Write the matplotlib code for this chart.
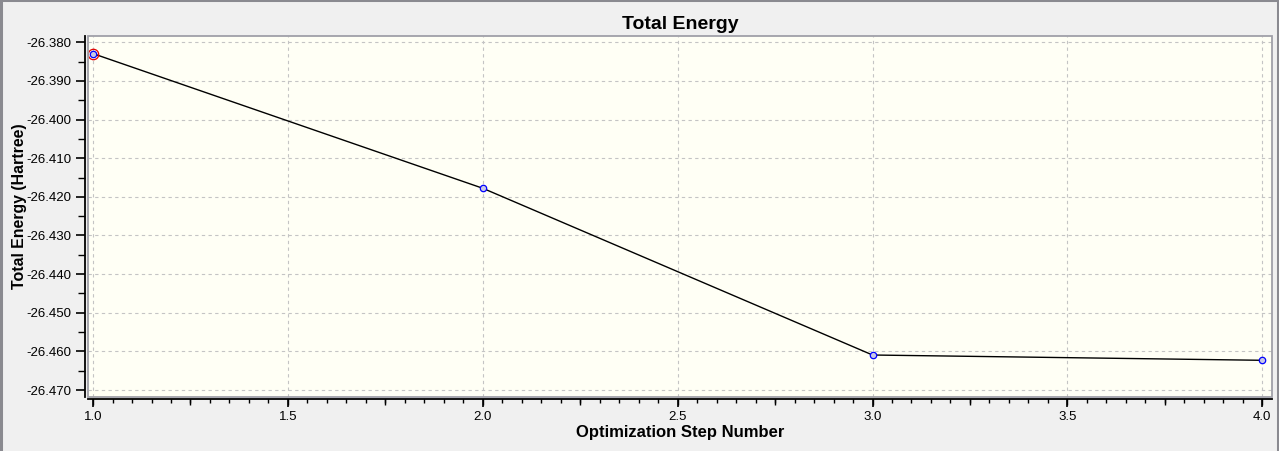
import matplotlib.pyplot as plt
from matplotlib.ticker import MultipleLocator, FormatStrFormatter
from matplotlib.patches import Rectangle
from matplotlib.lines import Line2D

# optimization steps and total energy (Hartree)
steps = [1, 2, 3, 4]
energy = [-26.38293, -26.41778, -26.46093, -26.46230]
highlight_step = 0  # index of the selected point (red ring)

plt.rcParams['font.family'] = ['Liberation Sans', 'DejaVu Sans']

fig = plt.figure(figsize=(12.79, 4.51), dpi=100, facecolor="#f0f0f0")
ax = fig.add_axes([88 / 1279, 1 - 396.7 / 451, (1272 - 88) / 1279, (396.7 - 36) / 451])
ax.set_facecolor("#fffff5")

ax.plot(steps, energy, color="black", linewidth=1.0, zorder=3)
ax.plot(steps, energy, linestyle="none", marker="o", markersize=4.6,
        markeredgecolor="#0000ff", markerfacecolor="#c8c8e6", markeredgewidth=0.9, zorder=4)
ax.plot(steps[highlight_step], energy[highlight_step], linestyle="none", marker="o",
        markersize=7.5, markeredgecolor="#e00000", markerfacecolor="none",
        markeredgewidth=0.9, zorder=5)

ax.set_xlim(0.987, 4.025)
ax.set_ylim(-26.47172, -26.37837)

ax.xaxis.set_major_locator(MultipleLocator(0.5))
ax.xaxis.set_minor_locator(MultipleLocator(0.05))
ax.xaxis.set_major_formatter(FormatStrFormatter("%.1f"))
ax.yaxis.set_major_locator(MultipleLocator(0.01))
ax.yaxis.set_minor_locator(MultipleLocator(0.005))
ax.yaxis.set_major_formatter(FormatStrFormatter("%.3f"))

ax.grid(True, which="major", color="#c4c4c4", linestyle=(0, (3, 3)), linewidth=0.8)

for side in ["top", "right"]:
    ax.spines[side].set_visible(False)
ax.spines["left"].set_position(("outward", 2.2))
ax.spines["bottom"].set_position(("outward", 2.0))
ax.spines["left"].set_linewidth(1.3)
ax.spines["bottom"].set_linewidth(1.3)

# gray frame of the plotting area
ax.add_patch(Rectangle((0, 0), 1, 1, transform=ax.transAxes, fill=False,
                       edgecolor="#a0a0a8", linewidth=1.3, clip_on=False, zorder=6))

ax.tick_params(axis="x", which="major", direction="out", length=5.6, width=1.2,
               labelsize=9.5, pad=3)
ax.tick_params(axis="x", which="minor", direction="out", length=3.0, width=1.0)
ax.tick_params(axis="y", which="major", direction="out", length=6.5, width=1.2,
               labelsize=9.5, pad=3)
ax.tick_params(axis="y", which="minor", direction="out", length=4.8, width=1.0)

# medium ticks every 0.25 on the x axis
sec = ax.secondary_xaxis("bottom")
sec.spines["bottom"].set_position(("outward", 2.0))
sec.spines["bottom"].set_visible(False)
sec.xaxis.set_major_locator(MultipleLocator(0.25))
sec.tick_params(axis="x", which="major", direction="out", length=4.6, width=1.0,
                labelbottom=False)
sec.xaxis.set_minor_locator(MultipleLocator(1))
sec.tick_params(which="minor", length=0)

ax.set_title("Total Energy", fontsize=14, fontweight="bold", pad=5)
ax.set_xlabel("Optimization Step Number", fontsize=12, fontweight="bold", labelpad=1)
ax.set_ylabel("Total Energy (Hartree)", fontsize=11.4, fontweight="bold")
ax.yaxis.set_label_coords(-0.0515, 0.529)

# window frame: top, left and right edges
frame = dict(transform=fig.transFigure, color="#8a8a90", linewidth=2.2)
fig.add_artist(Line2D([0, 1], [1, 1], **frame))
fig.add_artist(Line2D([0.001, 0.001], [0, 1], **frame))
fig.add_artist(Line2D([0.999, 0.999], [0, 1], **frame))

fig.savefig("out.png", dpi=100, facecolor=fig.get_facecolor())
